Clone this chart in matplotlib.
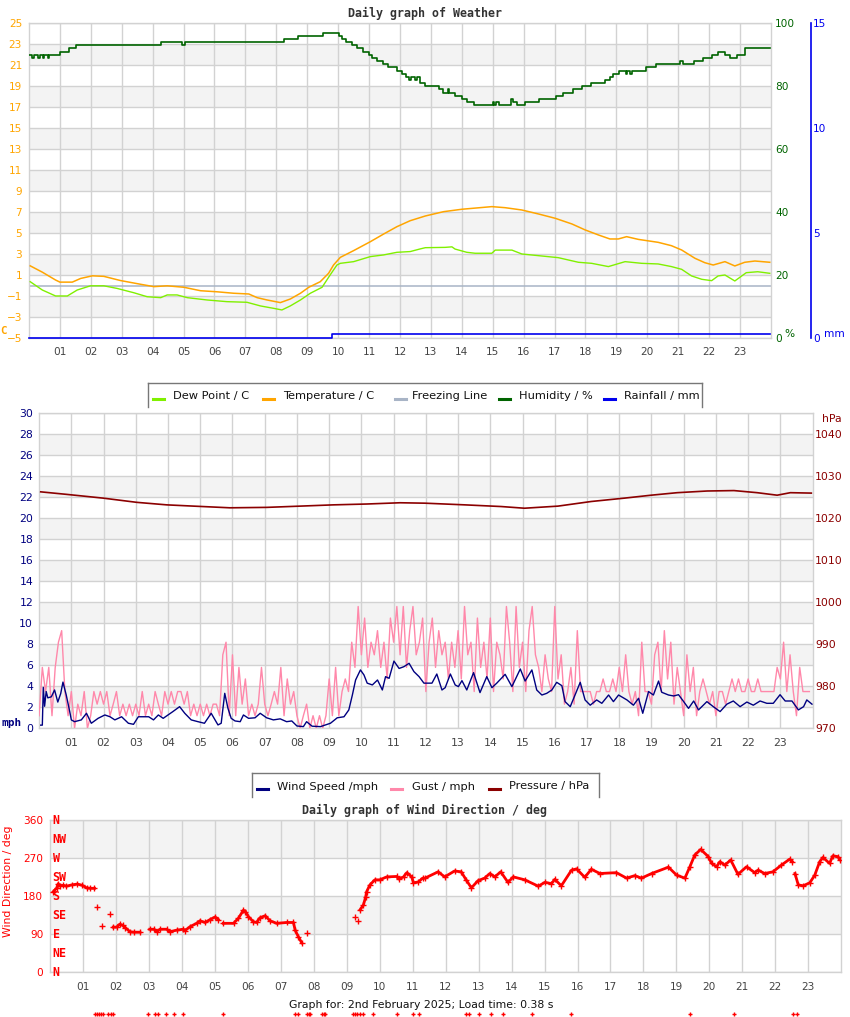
import numpy as np
import matplotlib
matplotlib.use("Agg")
import matplotlib.pyplot as plt
from matplotlib.lines import Line2D
from matplotlib.transforms import blended_transform_factory

# ---------------------------------------------------------------------------
# data (hours since midnight)
# ---------------------------------------------------------------------------
TEMP_H = [0.04, 0.43, 0.86, 1.0, 1.4, 1.67, 2.05, 2.42, 2.96, 3.6, 4.04, 4.47, 5.01, 5.55,
          6.08, 6.62, 7.11, 7.38, 7.7, 8.13, 8.45, 8.78, 9.05, 9.42, 9.69, 9.85, 10.07,
          10.5, 11.04, 11.47, 11.9, 12.33, 12.82, 13.41, 14.0, 14.43, 14.97, 15.4, 15.94,
          16.48, 17.02, 17.56, 17.99, 18.42, 18.79, 19.06, 19.33, 19.71, 20.35, 20.78,
          21.11, 21.54, 21.86, 22.13, 22.51, 22.83, 23.15, 23.48, 23.96]
TEMP = [1.9, 1.3, 0.55, 0.35, 0.35, 0.7, 0.95, 0.9, 0.5, 0.15, -0.08, 0.0, -0.14, -0.47,
        -0.57, -0.71, -0.78, -1.13, -1.35, -1.6, -1.26, -0.71, -0.14, 0.39, 1.19, 1.98, 2.71,
        3.35, 4.2, 4.93, 5.63, 6.2, 6.65, 7.06, 7.29, 7.4, 7.54, 7.44, 7.22,
        6.84, 6.43, 5.89, 5.32, 4.84, 4.46, 4.46, 4.68, 4.42, 4.14, 3.82,
        3.41, 2.62, 2.2, 1.98, 2.3, 1.89, 2.24, 2.36, 2.24]

DEW_H = [0.04, 0.43, 0.86, 1.24, 1.56, 1.99, 2.42, 2.85, 3.39, 3.82, 4.26, 4.47, 4.79, 5.12,
         5.76, 6.4, 7.05, 7.49, 7.92, 8.18, 8.45, 8.78, 9.1, 9.48, 9.74, 9.96, 10.07, 10.5,
         11.04, 11.47, 11.9, 12.33, 12.65, 12.82, 13.46, 13.68, 13.78, 14.16, 14.43, 14.97,
         15.08, 15.62, 15.94, 16.48, 17.12, 17.77, 18.2, 18.74, 19.28, 19.82, 20.35, 20.78,
         21.11, 21.43, 21.76, 22.08, 22.29, 22.51, 22.83, 23.2, 23.57, 23.96]
DEW = [0.39, -0.4, -0.97, -0.97, -0.4, 0.0, 0.0, -0.25, -0.66, -1.04, -1.13, -0.87, -0.87, -1.13,
       -1.35, -1.51, -1.57, -1.92, -2.15, -2.3, -1.92, -1.35, -0.71, -0.14, 1.03, 1.98, 2.14, 2.3,
       2.78, 2.94, 3.19, 3.26, 3.51, 3.63, 3.66, 3.71, 3.5, 3.19, 3.1, 3.1,
       3.4, 3.4, 3.03, 2.87, 2.68, 2.24, 2.14, 1.83, 2.3, 2.14, 2.08, 1.83,
       1.57, 0.94, 0.62, 0.49, 0.94, 1.03, 0.46, 1.25, 1.34, 1.19]

HUM_H = [0.0, 0.1, 0.15, 0.3, 0.35, 0.45, 0.5, 0.6, 0.65, 1.0, 1.3, 1.52, 4.28, 4.95, 5.05,
         8.26, 8.7, 9.5, 10.02, 10.12, 10.25, 10.45, 10.6, 10.8, 11.0, 11.1, 11.25, 11.45,
         11.6, 11.9, 12.05, 12.2, 12.3, 12.35, 12.5, 12.55, 12.65, 12.8, 13.25, 13.4, 13.55,
         13.6, 13.78, 14.0, 14.16, 14.4, 15.0, 15.05, 15.1, 15.2, 15.6, 15.65, 15.8, 16.05,
         16.48, 17.05, 17.28, 17.61, 17.88, 18.17, 18.63, 18.79, 18.9, 19.08, 19.3, 19.35,
         19.45, 19.5, 19.95, 20.27, 21.06, 21.15, 21.5, 21.8, 22.1, 22.29, 22.51, 22.67,
         22.89, 23.15, 23.96]
HUM = [90, 89, 90, 89, 90, 89, 90, 89, 90, 91, 92, 93, 94, 93, 94,
       95, 96, 97, 96, 95, 94, 93, 92, 91, 90, 89, 88, 87,
       86, 85, 84, 83, 82, 83, 82, 83, 81, 80, 79, 78, 79,
       78, 77, 76, 75, 74, 75, 74, 75, 74, 76, 75, 74, 75,
       76, 77, 78, 79, 80, 81, 82, 83, 84, 85, 84, 85,
       84, 85, 86, 87, 88, 87, 88, 89, 90, 91, 90, 89,
       90, 92, 92]

RAIN_H = [0.0, 9.8, 23.96]
RAIN = [0.0, 0.2, 0.2]

SPEED_H = [0.05, 0.1, 0.13, 0.17, 0.22, 0.27, 0.38, 0.48, 0.58, 0.67, 0.74, 0.84, 0.95, 1.0,
           1.1, 1.31, 1.47, 1.62, 1.83, 2.04, 2.2, 2.35, 2.56, 2.77, 2.93, 3.08, 3.4, 3.55,
           3.7, 3.85, 4.0, 4.15, 4.36, 4.52, 4.72, 4.93, 5.13, 5.34, 5.55, 5.65, 5.76, 5.86,
           5.96, 6.08, 6.24, 6.34, 6.5, 6.7, 6.86, 7.06, 7.27, 7.48, 7.68, 7.84, 8.0, 8.2,
           8.3, 8.47, 8.73, 9.04, 9.25, 9.46, 9.61, 9.72, 9.82, 9.97, 10.08, 10.18, 10.34,
           10.5, 10.65, 10.75, 10.86, 11.01, 11.17, 11.32, 11.48, 11.63, 11.79, 11.94, 12.19,
           12.34, 12.5, 12.6, 12.76, 12.91, 13.01, 13.12, 13.27, 13.48, 13.68, 13.89, 14.05,
           14.2, 14.46, 14.67, 14.93, 15.08, 15.29, 15.44, 15.6, 15.75, 15.91, 16.06, 16.22,
           16.32, 16.48, 16.63, 16.79, 16.94, 17.1, 17.3, 17.46, 17.67, 17.82, 17.98, 18.24,
           18.44, 18.6, 18.73, 18.91, 19.06, 19.22, 19.32, 19.53, 19.69, 19.84, 20.0, 20.15,
           20.31, 20.46, 20.72, 20.92, 21.13, 21.34, 21.54, 21.75, 21.96, 22.16, 22.37, 22.58,
           22.78, 22.99, 23.15, 23.36, 23.56, 23.72, 23.82, 23.98]
SPEED = [0.3, 0.3, 3.9, 2.1, 3.5, 2.9, 3.0, 3.65, 2.5, 3.3, 4.4, 3.2, 1.6, 0.8,
         0.63, 0.8, 1.43, 0.48, 0.95, 1.27, 1.1, 0.8, 1.1, 0.48, 0.38, 1.1, 1.1, 0.8,
         1.27, 0.95, 1.27, 1.59, 2.06, 1.43, 0.8, 0.63, 0.48, 1.43, 0.32, 0.48, 3.33, 1.9,
         0.95, 0.7, 0.63, 1.27, 0.95, 1.0, 1.43, 1.0, 0.8, 0.9, 0.63, 0.7, 0.22, 0.16,
         0.63, 0.2, 0.16, 0.48, 1.0, 1.1, 1.75, 3.17, 4.6, 5.56, 5.08, 4.3, 4.13,
         4.6, 3.65, 4.92, 4.76, 6.4, 5.7, 5.87, 6.19, 5.4, 4.92, 4.3, 4.3,
         5.17, 3.65, 3.87, 5.17, 4.13, 3.97, 4.54, 3.65, 5.3, 3.4, 4.92, 3.87,
         4.3, 5.14, 3.97, 5.65, 4.5, 5.56, 3.65, 3.17, 3.33, 3.65, 4.38, 4.06,
         2.54, 2.06, 3.17, 4.38, 2.7, 2.2, 2.7, 2.38, 3.17, 2.54, 3.17, 2.7,
         2.2, 2.86, 1.43, 3.5, 3.17, 4.5, 3.43, 3.17, 3.08, 3.2, 2.54, 1.9,
         2.6, 1.75, 2.54, 2.06, 1.59, 2.3, 2.6, 2.06, 2.5, 2.2, 2.6, 2.38,
         2.38, 3.2, 2.6, 2.6, 1.75, 2.06, 2.7, 2.3]

# gust, one reading every 6 minutes (00:00 .. 23:54)
GUST = [
    1.2, 5.8, 3.5, 5.8, 1.2, 5.8, 8.2, 9.3, 3.5, 1.2,
    3.5, 0.0, 2.3, 1.2, 3.5, 0.0, 1.2, 3.5, 2.3, 3.5,
    2.3, 3.5, 1.2, 2.3, 3.5, 1.2, 2.3, 1.2, 2.3, 1.2,
    2.3, 1.2, 3.5, 1.2, 2.3, 1.2, 3.5, 2.3, 1.2, 3.5,
    2.3, 3.5, 2.3, 3.5, 3.5, 2.3, 3.5, 1.2, 2.3, 1.2,
    2.3, 1.2, 2.3, 1.2, 2.3, 2.3, 1.2, 7.0, 8.2, 1.2,
    7.0, 1.2, 5.8, 2.3, 4.7, 1.2, 2.3, 1.2, 2.3, 5.8,
    2.3, 1.2, 2.3, 3.5, 2.3, 5.8, 1.2, 4.7, 2.3, 3.5,
    1.2, 0.0, 1.2, 2.3, 0.0, 1.2, 0.0, 1.2, 0.0, 1.2,
    4.7, 1.2, 5.8, 1.2, 3.5, 4.7, 3.5, 8.2, 5.8, 11.6,
    7.0, 10.5, 5.8, 8.2, 7.0, 9.3, 5.8, 8.2, 4.7, 10.5,
    8.2, 11.6, 7.0, 11.6, 5.8, 9.3, 11.6, 7.0, 8.2, 10.5,
    3.5, 8.2, 10.5, 5.8, 9.3, 7.0, 8.2, 4.7, 8.2, 5.8,
    9.3, 4.7, 11.6, 7.0, 8.2, 3.5, 10.5, 5.8, 8.2, 4.7,
    10.5, 3.5, 8.2, 7.0, 4.7, 11.6, 8.2, 3.5, 11.6, 5.8,
    8.2, 3.5, 9.3, 11.6, 7.0, 5.8, 3.5, 7.0, 4.7, 3.5,
    11.6, 4.7, 7.0, 2.3, 3.5, 5.8, 2.3, 9.3, 3.5, 3.5,
    3.5, 3.5, 2.3, 3.5, 3.5, 4.7, 3.5, 3.5, 4.7, 3.5,
    5.8, 3.5, 7.0, 3.5, 2.3, 3.5, 1.2, 8.2, 3.5, 3.5,
    2.3, 7.0, 8.2, 3.5, 9.3, 4.7, 8.2, 2.3, 5.8, 3.5,
    1.2, 7.0, 3.5, 5.8, 1.2, 3.5, 4.7, 3.5, 2.3, 3.5,
    1.2, 3.5, 3.5, 2.3, 3.5, 4.7, 3.5, 4.7, 3.5, 3.5,
    4.7, 3.5, 3.5, 4.7, 3.5, 3.5, 3.5, 3.5, 3.5, 5.8,
    4.7, 8.2, 3.5, 7.0, 3.5, 1.2, 5.8, 3.5, 3.5, 3.5,
]
GUST_H = np.arange(len(GUST)) * 0.1

PRES_H = [0.05, 0.85, 1.99, 3.03, 3.96, 4.79, 5.92, 7.06, 8.1, 9.13, 10.16, 11.2, 11.97,
          13.21, 14.34, 15.06, 16.1, 17.13, 18.16, 18.99, 19.8, 20.73, 21.56, 22.28, 22.9,
          23.31, 23.96]
PRES = [1026.3, 1025.7, 1024.8, 1023.8, 1023.2, 1022.9, 1022.5, 1022.6, 1022.9, 1023.2,
        1023.4, 1023.7, 1023.6, 1023.2, 1022.8, 1022.4, 1022.9, 1024.0, 1024.8, 1025.5,
        1026.1, 1026.5, 1026.6, 1026.1, 1025.5, 1026.1, 1026.0]

# wind direction: continuous runs, then stray single readings
DIR_RUNS = [
    ([0.09, 0.19, 0.24, 0.29, 0.4, 0.49, 0.65, 0.82, 0.97, 1.1, 1.22, 1.34],
     [191, 199, 210, 205, 206, 204, 207, 209, 206, 200, 199, 199]),
    ([1.91, 2.01, 2.11, 2.2, 2.27, 2.42, 2.55, 2.72],
     [107, 107, 114, 111, 106, 96, 95, 95]),
    ([3.02, 3.15, 3.23, 3.33, 3.53, 3.63, 3.84, 4.04, 4.09, 4.24, 4.44, 4.54, 4.7, 4.85, 5.0, 5.1],
     [102, 102, 96, 102, 102, 96, 100, 102, 99, 108, 116, 122, 118, 125, 131, 125]),
    ([5.25, 5.56, 5.71, 5.86, 5.92, 6.01, 6.16, 6.26, 6.36, 6.52, 6.67, 6.87, 7.18, 7.38,
      7.43, 7.53, 7.63],
     [116, 116, 128, 147, 144, 132, 120, 118, 129, 134, 122, 116, 118, 118, 100, 84, 70]),
    ([9.4, 9.5, 9.57, 9.6, 9.7, 9.85, 10.0, 10.21, 10.51, 10.57, 10.72, 10.82, 10.97, 11.02,
      11.17, 11.3, 11.37, 11.77, 11.97, 12.27, 12.47, 12.62, 12.78, 12.98, 13.18, 13.34,
      13.49, 13.67, 13.89, 14.05, 14.4, 14.81, 15.01, 15.21, 15.31, 15.51, 15.82, 15.97,
      16.22, 16.42, 16.68, 17.18, 17.49, 17.74, 17.94, 18.25, 18.76, 19.01, 19.26, 19.41,
      19.56, 19.74, 19.97, 20.07, 20.22, 20.32, 20.47, 20.65, 20.87, 21.13, 21.38, 21.48,
      21.68, 21.93, 22.19, 22.44, 22.52],
     [148, 159, 178, 191, 207, 219, 219, 226, 227, 221, 226, 236, 226, 212,
      214, 223, 223, 238, 226, 240, 238, 219, 200, 217, 223, 234,
      226, 238, 213, 226, 219, 204, 213, 210, 220, 205, 242, 245,
      225, 244, 234, 236, 223, 229, 223, 234, 249, 230, 223, 250,
      278, 291, 274, 258, 250, 262, 254, 266, 232, 250, 236, 242,
      234, 238, 254, 268, 262]),
    ([22.6, 22.7, 22.85, 23.05, 23.2, 23.35, 23.45, 23.65, 23.75, 23.9, 23.98],
     [234, 207, 205, 212, 230, 262, 272, 258, 276, 274, 266]),
]
DIR_STRAY_H = [1.43, 1.56, 1.81, 7.8, 9.25, 9.35]
DIR_STRAY = [154, 110, 138, 92, 130, 122]

# calm readings, plotted by the page below the chart
CALM_H = [1.36, 1.42, 1.48, 1.54, 1.6, 1.75, 1.84, 1.9, 2.96, 3.18, 3.27, 3.51, 3.75, 4.03,
          5.24, 7.43, 7.52, 7.79, 7.85, 7.88, 8.25, 8.31, 8.34, 9.19, 9.25, 9.31, 9.4, 9.49,
          9.79, 10.52, 11.01, 11.19, 12.62, 12.71, 13.01, 13.37, 13.74, 14.62, 15.8, 19.42,
          20.75, 22.54, 22.66]
CALM_Y = -99

HOUR_LABELS = ["%02d" % h for h in range(1, 24)]
COMPASS = ["N", "NE", "E", "SE", "S", "SW", "W", "NW", "N"]

# ---------------------------------------------------------------------------
W, H = 850, 1017
fig = plt.figure(figsize=(W / 100, H / 100), dpi=100)
fig.patch.set_facecolor("white")

GRID = "#d2d2d2"
BAND = "#f3f3f3"
XLAB = "#444444"
MONO = "DejaVu Sans Mono"

ORANGE = "#ffa500"
DEWC = "#80f000"
HUMC = "#006400"
RAINC = "#0000ee"
FREEZE = "#a8b4c6"
NAVY = "#000080"
PINK = "#ff88aa"
PRESC = "#8b0000"
RED = "#ff0000"


def px_axes(left, top, right, bottom):
    return fig.add_axes([left / W, 1 - bottom / H, (right - left) / W, (bottom - top) / H])


def fxy(x, y):
    return x / W, 1 - y / H


def style(ax, ylim, yticks, shade_odd, ycolor, fs=7.6, ypad=5, xpad=6.5):
    ax.set_xlim(0, 24)
    ax.set_ylim(*ylim)
    ax.set_xticks(range(1, 24))
    ax.set_xticklabels(HOUR_LABELS)
    ax.set_yticks(yticks)
    ax.tick_params(axis="both", length=0, labelsize=fs)
    ax.tick_params(axis="x", colors=XLAB, pad=xpad)
    ax.tick_params(axis="y", colors=ycolor, pad=ypad)
    ax.grid(True, color=GRID, linewidth=1.0)
    ax.set_axisbelow(True)
    for sp in ax.spines.values():
        sp.set_color(GRID)
        sp.set_linewidth(1.0)
    # alternating bands, counted from the top
    levels = sorted(yticks, reverse=True)
    for i in range(len(levels) - 1):
        if (i % 2 == 1) == shade_odd:
            ax.axhspan(levels[i + 1], levels[i], color=BAND, zorder=0, lw=0)


def legend_box(x0, x1, y0, y1, items, text_y):
    # box drawn open at the bottom, like the page does
    for xs, ys in (([x0, x0], [y1, y0]), ([x0, x1], [y0, y0]), ([x1, x1], [y0, y1])):
        fig.add_artist(Line2D([x / W for x in xs], [1 - y / H for y in ys],
                              color="#777777", lw=1.0))
    for hx, tx, col, label in items:
        fig.add_artist(Line2D([hx / W, (hx + 11) / W], [1 - (text_y + 2.5) / H] * 2,
                              color=col, lw=2.2))
        fig.text(*fxy(tx, text_y), label, fontsize=8.2, color="#111111",
                 ha="left", va="center")


# ---------------- panel 1: weather ----------------
ax1 = px_axes(29, 23.3, 771, 338.3)
style(ax1, (-5, 25), list(range(-5, 26, 2)), True, ORANGE, fs=7.6, ypad=5, xpad=6)
ax1.axhline(0, color=FREEZE, lw=1.1, zorder=2)
ax1.plot(DEW_H, DEW, color=DEWC, lw=1.0, zorder=3)
ax1.plot(TEMP_H, TEMP, color=ORANGE, lw=1.1, zorder=3)

axh = ax1.twinx()
axh.set_ylim(0, 100)
axh.set_yticks(range(0, 101, 20))
axh.tick_params(length=0, labelsize=7.6, colors=HUMC, pad=3)
for sp in axh.spines.values():
    sp.set_visible(False)
axh.plot(HUM_H, HUM, color=HUMC, lw=1.2, drawstyle="steps-post")

axr = ax1.twinx()
axr.set_ylim(0, 15)
axr.set_yticks([0, 5, 10, 15])
axr.tick_params(length=0, labelsize=7.6, colors=RAINC, pad=1.5)
for sp in axr.spines.values():
    sp.set_visible(False)
axr.spines["right"].set_visible(True)
axr.spines["right"].set_position(("axes", 1 + 40 / 742))
axr.spines["right"].set_color(RAINC)
axr.spines["right"].set_linewidth(1.2)
axr.plot(RAIN_H, RAIN, color=RAINC, lw=1.2, drawstyle="steps-post", clip_on=False)

fig.text(*fxy(425, 13), "Daily graph of Weather", family=MONO, weight="bold",
         fontsize=8.4, color="#333333", ha="center", va="center")
fig.text(*fxy(0, 331), "C", family=MONO, weight="bold", fontsize=7.8, color=ORANGE,
         ha="left", va="center")
fig.text(*fxy(784, 334), "%", fontsize=7.6, color=HUMC, ha="left", va="center")
fig.text(*fxy(824, 334), "mm", fontsize=7.6, color=RAINC, ha="left", va="center")

legend_box(148, 702, 383, 407, [
    (153, 173, DEWC, "Dew Point / C"),
    (263, 283, ORANGE, "Temperature / C"),
    (395, 412, FREEZE, "Freezing Line"),
    (499, 519, HUMC, "Humidity / %"),
    (604, 624, RAINC, "Rainfall / mm"),
], 396.5)

# ---------------- panel 2: wind & pressure ----------------
ax2 = px_axes(39.1, 413.3, 812.6, 728.3)
style(ax2, (0, 30), list(range(0, 31, 2)), True, NAVY, fs=7.8, ypad=4.3, xpad=7)
ax2.plot(GUST_H, GUST, color=PINK, lw=1.0, zorder=3)
ax2.plot(SPEED_H, SPEED, color=NAVY, lw=1.0, zorder=4)

axp = ax2.twinx()
axp.set_ylim(970, 1045)
axp.set_yticks(range(970, 1041, 10))
axp.tick_params(length=0, labelsize=7.8, colors=PRESC, pad=1.8)
for sp in axp.spines.values():
    sp.set_visible(False)
axp.plot(PRES_H, PRES, color=PRESC, lw=1.2)

fig.text(*fxy(822, 419), "hPa", fontsize=7.8, color=PRESC, ha="left", va="center")
fig.text(*fxy(1, 723), "mph", family=MONO, weight="bold", fontsize=8.0, color=NAVY,
         ha="left", va="center")

legend_box(252, 599, 773, 797, [
    (257, 277, NAVY, "Wind Speed /mph"),
    (391, 412, PINK, "Gust / mph"),
    (489, 509, PRESC, "Pressure / hPa"),
], 786.5)

# ---------------- panel 3: wind direction ----------------
ax3 = px_axes(50.3, 820.3, 841.1, 972.3)
style(ax3, (0, 360), [0, 90, 180, 270, 360], False, RED, fs=7.6, ypad=5, xpad=7)
for hh, dd in DIR_RUNS:
    ax3.plot(hh, dd, color=RED, lw=2.0, marker="+", ms=4, mew=1.0, zorder=3)
ax3.plot(DIR_STRAY_H, DIR_STRAY, color=RED, ls="none", marker="+", ms=4, mew=1.0, zorder=3)
ax3.plot(CALM_H, [CALM_Y] * len(CALM_H), color=RED, ls="none", marker="+", ms=3.5,
         mew=1.0, clip_on=False)

trans = blended_transform_factory(ax3.transAxes, ax3.transData)
for k, name in enumerate(COMPASS):
    ax3.text(0.003, k * 45, name, transform=trans, family=MONO, weight="bold",
             fontsize=8.4, color=RED, ha="left", va="center", zorder=5)

fig.text(*fxy(8, 881), "Wind Direction / deg", fontsize=7.8, color=RED, rotation=90,
         ha="center", va="center")
fig.text(*fxy(425, 810), "Daily graph of Wind Direction / deg", family=MONO, weight="bold",
         fontsize=8.4, color="#333333", ha="center", va="center")
fig.text(*fxy(421, 1005), "Graph for: 2nd February 2025; Load time: 0.38 s", fontsize=7.8,
         color="#111111", ha="center", va="center")

fig.savefig("out.png", dpi=100, facecolor="white")
